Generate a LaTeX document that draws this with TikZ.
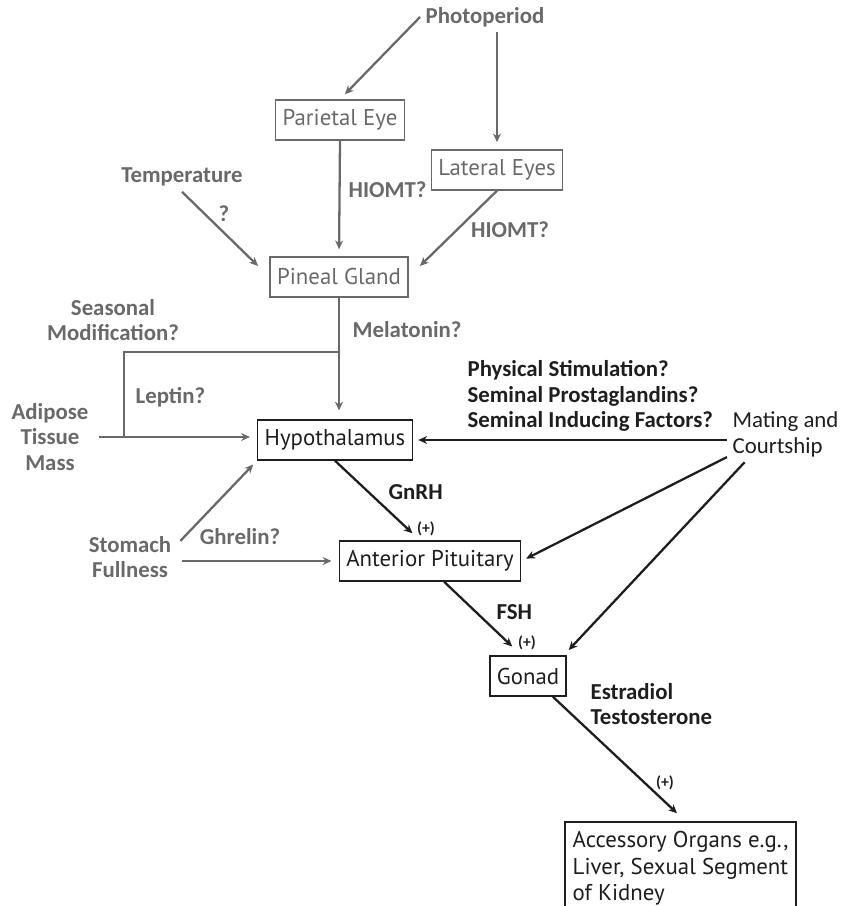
\documentclass[tikz,border=0pt]{standalone}
\usepackage{fontspec}
\setmainfont{Carlito}
\newfontfamily\boxfont{PT Sans}
\usetikzlibrary{calc, arrows.meta, positioning}
\definecolor{pathgray}{RGB}{105,105,105}
\definecolor{inkdark}{RGB}{30,30,30}

\begin{document}
\begin{tikzpicture}[x=0.02cm, y=-0.02cm]
      % Styles
      \tikzset{gbox/.style={draw=pathgray, text=pathgray, line width=0.8pt, font=\boxfont\fontsize{13}{15}\selectfont, inner xsep=4pt, minimum height=0.8cm}}
      \tikzset{bbox/.style={gbox, draw=inkdark, text=inkdark}}
      \tikzset{glabel/.style={text=pathgray, font=\fontsize{13}{14.7}\selectfont\bfseries, inner sep=3pt}}
      \tikzset{blabel/.style={glabel, text=inkdark}}
      \tikzset{btext/.style={text=inkdark, font=\fontsize{13}{14.7}\selectfont, inner sep=3pt}}
      \tikzset{bplus/.style={text=inkdark, font=\fontsize{9}{10}\selectfont\bfseries, inner sep=1pt}}
      \tikzset{gline/.style={draw=pathgray, line width=1.3pt}}
      \tikzset{garrow/.style={gline, -{Stealth[length=5pt, width=4.5pt]}}}
      \tikzset{barrow/.style={garrow, draw=inkdark}}

      \useasboundingbox (0,0) rectangle (840,906);

      % --- Light input: photoperiod, eyes, pineal ---
      \node[glabel] (photo) at (485,17) {Photoperiod};
      \node[gbox] (parietal) at (340,120) {Parietal Eye};
      \node[gbox] (lateral) at (497,170) {Lateral Eyes};
      \node[glabel] (temp) at (182,177) {Temperature};
      \node[glabel] (tempq) at (224,214) {?};
      \node[gbox] (pineal) at (339,277) {Pineal Gland};
      \node[glabel, anchor=west] (hiomta) at (343,190) {HIOMT?};
      \node[glabel] (hiomtb) at (510,230) {HIOMT?};

      % --- Modifiers on the left ---
      \node[glabel, align=center] (season) at (113,320) {Seasonal\\Modification?};
      \node[glabel, anchor=west] (melat) at (347,330) {Melatonin?};
      \node[glabel, anchor=west] (leptin) at (130,397) {Leptin?};
      \node[glabel, align=center] (adipose) at (50,437) {Adipose\\Tissue\\Mass};
      \node[glabel, align=center] (stomach) at (130,557) {Stomach\\Fullness};
      \node[glabel] (ghrelin) at (240,537) {Ghrelin?};

      % --- Axis ---
      \node[bbox] (hypo) at (335,440) {Hypothalamus};
      \node[bbox] (ant) at (430,561) {Anterior Pituitary};
      \node[bbox] (gonad) at (528,676) {Gonad};
      \node[bbox, draw=none, anchor=north west, align=left, inner ysep=5pt] (access) at (565,822) {Accessory Organs e.g.,\\Liver, Sexual Segment\\of Kidney};
      \draw[draw=inkdark, line width=0.8pt] (access.north west) rectangle ([yshift=-10pt]access.south east);

      \node[blabel, align=left, anchor=west] (semen) at (462,396) {Physical Stimulation?\\Seminal Prostaglandins?\\Seminal Inducing Factors?};
      \node[btext, align=left, anchor=west] (mating) at (727,434) {Mating and\\Courtship};
      \node[blabel, anchor=west] (gnrh) at (383,492) {GnRH};
      \node[bplus] (plusa) at (426,529) {(+)};
      \node[blabel, anchor=west] (fsh) at (491,612) {FSH};
      \node[bplus] (plusb) at (527,643) {(+)};
      \node[blabel, align=left, anchor=west] (steroid) at (585,704) {Estradiol\\Testosterone};
      \node[bplus] (plusc) at (665,783) {(+)};

      % --- Gray connectors ---
      \draw[garrow, shorten >=4pt] (photo.west) -- (parietal.north);
      \draw[garrow, shorten >=4pt] (photo.south -| lateral.north) -- (lateral.north);
      \draw[garrow, shorten >=4pt] (parietal.south) -- (pineal.north);
      \draw[garrow, shorten >=9pt] (lateral.south) -- (pineal.east);
      \draw[garrow, shorten >=9pt] (temp.south) -- (pineal.west);
      \draw[garrow, shorten >=5pt] (pineal.south) -- (pineal.south |- hypo.north);
      \coordinate (corner) at (124,352);
      \draw[gline] (pineal.south |- corner) -- (corner) -- (corner |- adipose.east);
      \draw[garrow, shorten <=3pt, shorten >=4pt] (adipose.east) -- (adipose.east -| hypo.west);
      \draw[garrow, shorten >=3pt] ([xshift=2pt,yshift=-6pt]stomach.north east) -- (hypo.south west);
      \draw[garrow, shorten <=3pt, shorten >=4pt] (stomach.east |- ant.west) -- (ant.west);

      % --- Dark connectors ---
      \draw[barrow, shorten >=3pt] (mating.west |- hypo.east) -- (hypo.east);
      \draw[barrow, shorten >=3pt] ([yshift=3pt]mating.south west) -- (ant.east);
      \draw[barrow] ([xshift=10pt]mating.south west) -- ([xshift=1pt,yshift=3pt]gonad.north east);
      \draw[barrow] (hypo.south) -- ([xshift=-10pt,yshift=4pt]ant.north);
      \draw[barrow] ([xshift=8pt]ant.south) -- ([xshift=-9pt,yshift=5pt]gonad.north);
      \draw[barrow] ([xshift=-8pt]gonad.south east) -- ([xshift=-2pt,yshift=5pt]access.north);
\end{tikzpicture}
\end{document}
